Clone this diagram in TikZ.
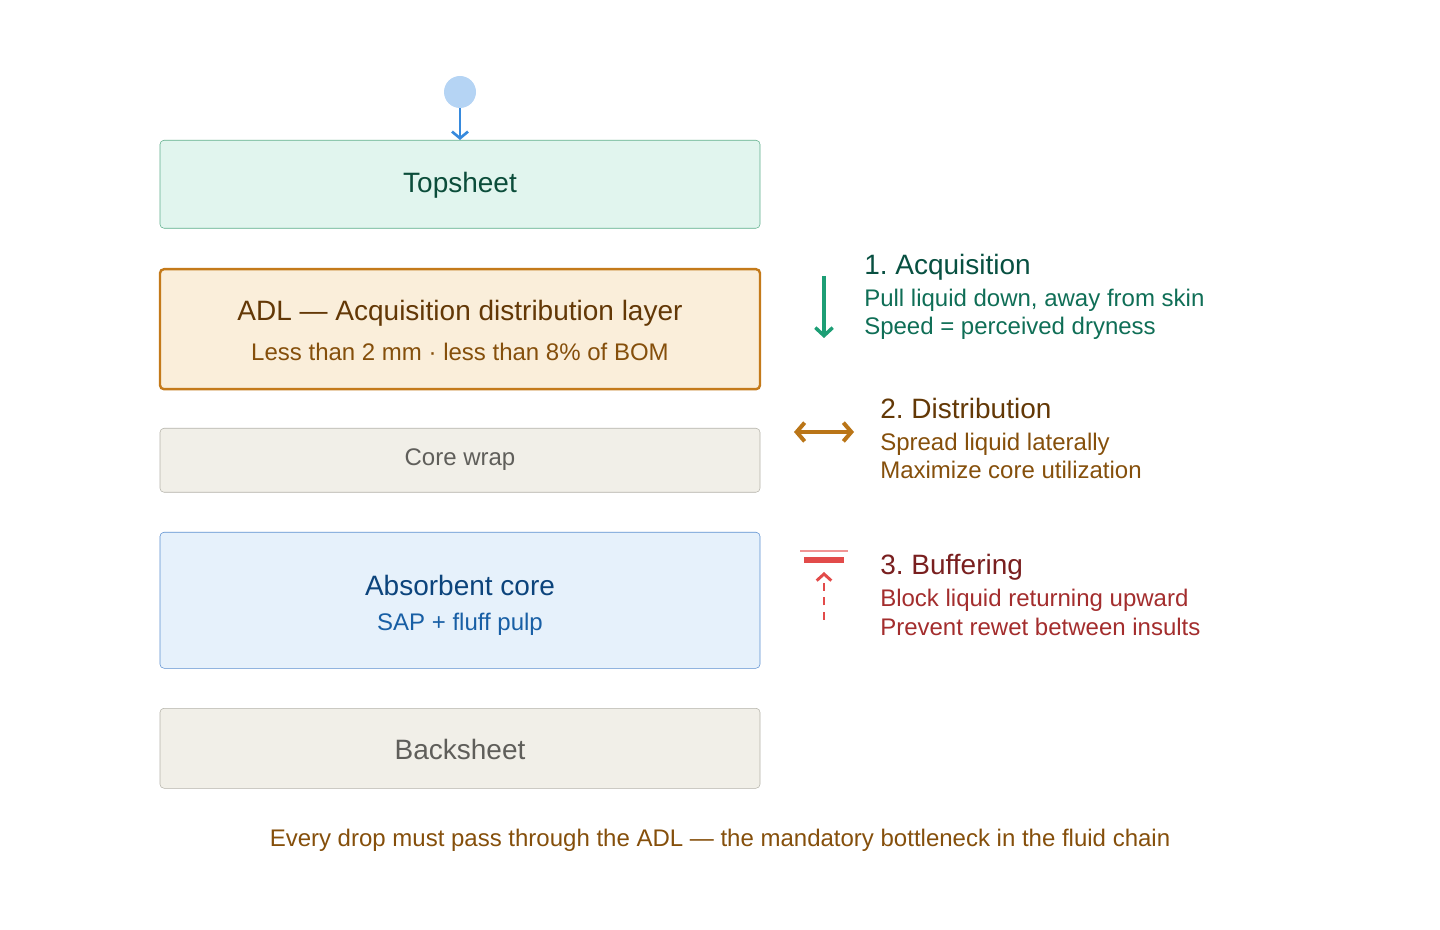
\documentclass[tikz,border=0pt]{standalone}
\usepackage{fontspec}
\setmainfont{Liberation Sans}
\frenchspacing
\usetikzlibrary{arrows.meta}
\definecolor{tsF}{HTML}{E1F5EE}\definecolor{tsB}{HTML}{5DAE8B}\definecolor{tsT}{HTML}{0B4D3A}
\definecolor{adF}{HTML}{FAEEDA}\definecolor{adB}{HTML}{C47A1A}\definecolor{adT}{HTML}{633806}\definecolor{adS}{HTML}{854F0B}
\definecolor{gyF}{HTML}{F1EFE8}\definecolor{gyB}{HTML}{B4B2A9}\definecolor{gyT}{HTML}{5F5E5A}
\definecolor{blF}{HTML}{E6F1FB}\definecolor{blB}{HTML}{5B8FD0}\definecolor{blT}{HTML}{0C447C}\definecolor{blS}{HTML}{185FA5}
\definecolor{grH}{HTML}{085041}\definecolor{grT}{HTML}{0F6E56}\definecolor{grA}{HTML}{1D9E75}
\definecolor{orA}{HTML}{BA7517}
\definecolor{rdH}{HTML}{791F1F}\definecolor{rdT}{HTML}{A32D2D}\definecolor{rdA}{HTML}{E24B4A}\definecolor{rdL}{HTML}{F09595}
\definecolor{drop}{HTML}{B5D4F4}\definecolor{dropA}{HTML}{378ADD}
\begin{document}
\begin{tikzpicture}[x=0.75pt,y=-0.75pt,
  layer/.style={draw,rounded corners=3pt,minimum width=450pt,anchor=north,inner sep=0pt},
  big/.style={font=\fontsize{21}{25}\selectfont},
  small/.style={font=\fontsize{18}{22}\selectfont},
  side/.style={anchor=base west,inner sep=0pt},
  arr/.style={line width=2.6pt,-{Straight Barb[length=6pt,width=13pt]}}]
\useasboundingbox (0,0) rectangle (1440,930);
\node[layer,fill=tsF,draw=tsB,minimum height=66pt] (ts) at (460,140) {};
\node[big,text=tsT] (tsl) at (460,185) {Topsheet};
\node[layer,fill=adF,draw=adB,line width=1.8pt,minimum height=90pt] (adl) at (460,268) {};
\node[big,text=adT] (adl1) at (460,313) {ADL — Acquisition distribution layer};
\node[small,text=adS] (adl2) at (460,352) {Less than 2 mm · less than 8\% of BOM};
\node[layer,fill=gyF,draw=gyB,minimum height=48pt] (cw) at (460,428) {};
\node[small,text=gyT] (cwl) at (460,460) {Core wrap};
\node[layer,fill=blF,draw=blB,minimum height=102pt] (ac) at (460,532) {};
\node[big,text=blT] (ac1) at (460,585) {Absorbent core};
\node[small,text=blS] (ac2) at (460,624) {SAP + fluff pulp};
\node[layer,fill=gyF,draw=gyB,minimum height=60pt] (bs) at (460,708) {};
\node[big,text=gyT] (bsl) at (460,749) {Backsheet};
\node[circle,fill=drop,minimum size=24pt,inner sep=0pt] (dr) at (460,92) {};
\draw[dropA,line width=2pt,-{Straight Barb[length=5pt,width=12pt]}] (dr.south) -- (ts.north);
% side
\coordinate (g1) at (824,276); \coordinate (g2) at (824,338);
\draw[grA,arr] (g1) -- (g2);
\node[side,big,text=grH] (t1a) at (864,275) {1. Acquisition};
\node[side,small,text=grT] (t1b) at (864,307) {Pull liquid down, away from skin};
\node[side,small,text=grT] (t1c) at (864,335) {Speed = perceived dryness};
\coordinate (o1) at (794,432); \coordinate (o2) at (854,432);
\draw[orA,line width=3pt,{Straight Barb[length=6pt,width=14pt]}-{Straight Barb[length=6pt,width=14pt]}] (o1) -- (o2);
\node[side,big,text=adT] (t2a) at (880,419) {2. Distribution};
\node[side,small,text=adS] (t2b) at (880,451) {Spread liquid laterally};
\node[side,small,text=adS] (t2c) at (880,479) {Maximize core utilization};
\draw[rdL,line width=1.3pt] (800,551) -- (848,551);
\draw[rdA,line width=4.5pt] (804,560) -- (844,560);
\coordinate (r1) at (824,620); \coordinate (r2) at (824,572);
\draw[rdA,line width=2.2pt,dash pattern=on 6pt off 5pt,-{Straight Barb[length=5pt,width=11pt]}] (r1) -- (r2);
\node[side,big,text=rdH] (t3a) at (880,575) {3. Buffering};
\node[side,small,text=rdT] (t3b) at (880,607) {Block liquid returning upward};
\node[side,small,text=rdT] (t3c) at (880,635) {Prevent rewet between insults};
\node[small,text=adS] (ft) at (720,840) {Every drop must pass through the ADL — the mandatory bottleneck in the fluid chain};
\end{tikzpicture}
\end{document}
